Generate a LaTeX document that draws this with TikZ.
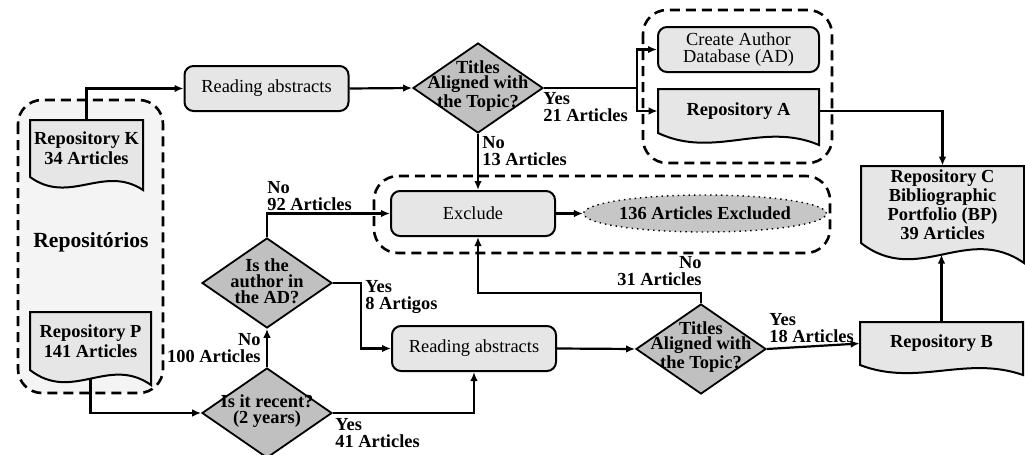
\documentclass[tikz,border=0pt]{standalone}
\usepackage{fontspec}
\setmainfont{Liberation Serif}
\usetikzlibrary{arrows.meta,shapes.geometric,calc}
\pgfdeclarelayer{groups}
\pgfdeclarelayer{links}
\pgfsetlayers{groups,links,main}

\definecolor{boxgray}{HTML}{E6E6E6}
\definecolor{diagray}{HTML}{C0C0C0}
\definecolor{ellgray}{HTML}{C6C6C6}
\definecolor{grpgray}{HTML}{F4F4F4}

\tikzset{
  lbl/.style={font=\fontsize{9.2pt}{8.3pt}\selectfont\bfseries, inner sep=0pt, align=left},
  lblr/.style={lbl, align=right},
  proc/.style={draw, line width=1pt, fill=boxgray, rounded corners=4.5pt, inner sep=0pt,
    minimum width=82pt, minimum height=22.5pt, font=\fontsize{9.2pt}{8.5pt}\selectfont, align=center},
  decision/.style={draw, diamond, line width=0.9pt, fill=diagray, inner sep=0pt,
    minimum width=65pt, minimum height=45pt},
  dtext/.style={font=\fontsize{9.2pt}{7.9pt}\selectfont\bfseries, align=center, inner sep=0pt, yshift=1pt},
  docfill/.style={draw, line width=1pt, fill=boxgray},
  doctext/.style={font=\fontsize{9.2pt}{8.3pt}\selectfont\bfseries, align=center, inner sep=0pt},
  doctextwide/.style={font=\fontsize{9.2pt}{10pt}\selectfont\bfseries, align=center, inner sep=0pt},
  group/.style={draw, dash pattern=on 5pt off 3pt, line width=1.3pt, rounded corners=12pt},
  link/.style={line width=1.1pt, -{Latex[length=4.5pt,width=3.8pt]}},
  plain/.style={line width=1.1pt}
}

% document symbol: name, x0, y0, x1, bottom-left y, wave drop, text style, text
\newcommand\docnode[8]{%
  \path[docfill] (#2,#3) -- (#4,#3) -- (#4,{#5+#6})
    .. controls ({#2+0.65*(#4-#2)},{#5-#6}) and ({#2+0.35*(#4-#2)},{#5+2.2*#6}) .. (#2,#5) -- cycle;
  \node[#7, minimum width={(#4-#2)*0.5pt}, minimum height={(#5-#3)*0.5pt}]
    (#1) at ({(#2+#4)/2},{(#3+#5)/2}) {#8};
}

\begin{document}
\begin{tikzpicture}[x=0.5pt,y=-0.5pt]
\useasboundingbox (0,0) rectangle (1025,455);

% dashed groupings
\begin{pgfonlayer}{groups}
  \draw[group, fill=grpgray] (18,100) rectangle (163,393);
  \draw[group, fill=white] (643,10) rectangle (832,163);
  \draw[group, fill=white] (374,176) rectangle (830,253);
\end{pgfonlayer}

% repositories
\docnode{repK}{30}{120}{143}{177}{13}{doctextwide}{Repository K\\34 Articles}
\docnode{repP}{30}{312}{151}{370}{15}{doctextwide}{Repository P\\141 Articles}
\node[font=\fontsize{10.8pt}{12pt}\selectfont\bfseries, inner sep=0pt] (reptitle) at (91,242) {Repositórios};

\docnode{repA}{658}{89}{819}{133}{12}{doctext}{Repository A}
\docnode{repC}{861}{166}{1024}{243}{20}{doctext}{Repository C\\Bibliographic\\Portfolio (BP)\\39 Articles}
\docnode{repB}{860}{322}{1023}{365}{10}{doctext}{Repository B}

% process boxes
\node[proc] (read1) at (266.5,88.5) {Reading abstracts};
\node[proc, minimum width=80.5pt] (cad) at (738.5,49.5) {Create Author\\Database (AD)};
\node[proc] (exclude) at (473,213.5) {Exclude};
\node[proc] (read2) at (474,348.5) {Reading abstracts};
\node[draw, ellipse, dotted, line width=0.7pt, fill=ellgray, inner sep=0pt,
      minimum width=102pt, minimum height=18.5pt,
      font=\fontsize{9.2pt}{10pt}\selectfont\bfseries] (excl) at (705,213.5) {136 Articles Excluded};

% decisions
\node[decision] (d1) at (478,88) {};
\node[dtext] (d1t) at (d1.center) {Titles\\Aligned with\\the Topic?};
\node[decision] (d2) at (267,283) {};
\node[dtext] (d2t) at (d2.center) {Is the\\author in\\the AD?};
\node[decision] (d3) at (701,349) {};
\node[dtext] (d3t) at (d3.center) {Titles\\Aligned with\\the Topic?};
\node[decision] (d4) at (267,413) {};
\node[dtext] (d4t) at (d4.center) {Is it recent?\\(2 years)};

% branch labels
\node[lbl, anchor=north west] (l21) at (543,92) {Yes\\21 Articles};
\node[lbl, anchor=north west] (l13) at (482,136) {No\\13 Articles};
\node[lbl, anchor=north west] (l92) at (267,181) {No\\92 Articles};
\node[lbl, anchor=north west] (l8) at (365,280) {Yes\\8 Artigos};
\node[lblr, anchor=north east] (l100) at (261,333) {No\\100 Articles};
\node[lbl, anchor=north west] (l41) at (335,418) {Yes\\41 Articles};
\node[lblr, anchor=north east] (l31) at (702,256) {No\\31 Articles};
\node[lbl, anchor=north west] (l18) at (769,313) {Yes\\18 Articles};

\coordinate (split) at (637,88);
\coordinate (repCwave) at (942.5,254.5);

% connectors
\begin{pgfonlayer}{links}
  \draw[link] (repK.north) |- (read1.west);
  \draw[link] (read1.east) -- (d1.west);
  \draw[plain] (d1.east) -- (split);
  \draw[link] (split) |- (cad.west);
  \draw[link] (split) |- (repA.west);
  \draw[link] (d1.south) -- (d1.south |- exclude.north);
  \draw[link] (repA.east) -| (repC.north);
  \draw[link] (repB.north) -- (repB.north |- repCwave);
  \draw[link] (exclude.east) -- (excl.west);
  \draw[link] (repP.south) |- (d4.west);
  \draw[link] (d4.north) -- (d2.south);
  \draw[link] (d4.east) -| (read2.south);
  \draw[link] (d2.north) |- (exclude.west);
  \draw[link] (d2.east) -- ++(28,0) |- (read2.west);
  \draw[link] (read2.east) -- (d3.west);
  \draw[link] (d3.north) -- ++(0,-10) -| (d1.south |- exclude.south);
  \draw[link] (d3.east) -- (repB.west);
\end{pgfonlayer}
\end{tikzpicture}
\end{document}
